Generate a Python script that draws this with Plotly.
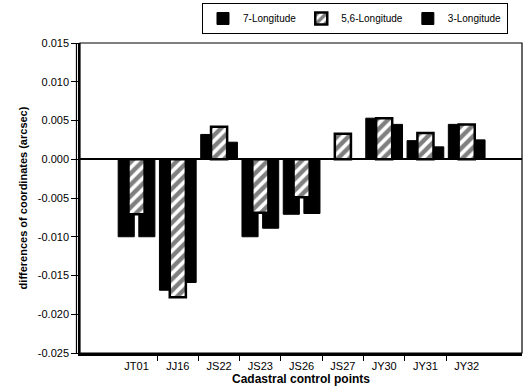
import plotly.graph_objects as go

# Cadastral control points and coordinate differences (arcsec)
points = ["JT01", "JJ16", "JS22", "JS23", "JS26", "JS27", "JY30", "JY31", "JY32"]
lon7 = [-0.0100, -0.0169, 0.0032, -0.0100, -0.0071, 0.0000, 0.0053, 0.0024, 0.0045]
lon56 = [-0.0071, -0.0178, 0.0042, -0.0069, -0.0049, 0.0033, 0.0053, 0.0034, 0.0045]
lon3 = [-0.0100, -0.0159, 0.0022, -0.0089, -0.0070, 0.0000, 0.0045, 0.0016, 0.0025]

y_ticks = [0.015, 0.010, 0.005, 0.000, -0.005, -0.010, -0.015, -0.020, -0.025]
y_labels = ["0.015", "0.010", "0.005", "0.000", "-0.005", "-0.010", "-0.015", "-0.020", "-0.025"]

pos = list(range(len(points)))
bw = 0.39
FONT = "Liberation Sans, Arial, sans-serif"

fig = go.Figure()
fig.add_trace(go.Bar(
    x=pos, y=lon7, name="7-Longitude", width=bw, offset=-0.25 - bw / 2,
    marker=dict(color="black", line=dict(color="black", width=1)),
    legendrank=1,
))
fig.add_trace(go.Bar(
    x=pos, y=lon3, name="3-Longitude", width=bw, offset=0.25 - bw / 2,
    marker=dict(color="black", line=dict(color="black", width=1)),
    legendrank=3,
))
fig.add_trace(go.Bar(
    x=pos, y=lon56, name="5,6-Longitude", width=bw, offset=-bw / 2,
    marker=dict(
        color="white",
        line=dict(color="black", width=2.5),
        pattern=dict(shape="/", fgcolor="black", bgcolor="white", size=8, solidity=0.55),
    ),
    legendrank=2,
))

# frame: thin top/right border plus a second left rule
fig.add_shape(type="rect", xref="paper", yref="paper", x0=0, x1=1, y0=0, y1=1,
              line=dict(color="black", width=1.2))
fig.add_shape(type="line", xref="paper", yref="paper", x0=-0.008, x1=-0.008, y0=0, y1=1,
              line=dict(color="black", width=1.2))

fig.update_layout(
    width=523, height=392,
    margin=dict(l=80, r=1, t=43, b=39),
    barmode="overlay",
    plot_bgcolor="white", paper_bgcolor="white",
    font=dict(family=FONT, size=11, color="black"),
    legend=dict(
        orientation="h", x=0.276, y=1.129, xanchor="left", yanchor="top",
        bordercolor="black", borderwidth=1, font=dict(size=10, family=FONT),
        itemwidth=30, tracegroupgap=0,
    ),
    xaxis=dict(
        range=[-1.37, 9.34],
        tickmode="array", tickvals=pos, ticktext=points,
        ticks="outside", ticklen=1, tickcolor="rgba(0,0,0,0)",
        tickfont=dict(size=11, family=FONT),
        minor=dict(tickmode="array", tickvals=[p + 0.5 for p in pos[:-1]],
                   ticks="outside", ticklen=5, tickcolor="black", tickwidth=1.2),
        showline=True, linecolor="black", linewidth=3,
        showgrid=False, zeroline=False,
        title=dict(text="<b>Cadastral control points</b>", font=dict(size=12, family=FONT), standoff=4),
    ),
    yaxis=dict(
        range=[-0.025, 0.015],
        tickmode="array", tickvals=y_ticks, ticktext=y_labels,
        ticks="outside", ticklen=7, tickwidth=1.2, tickcolor="black",
        tickfont=dict(size=11, family=FONT),
        showline=True, linecolor="black", linewidth=1.5,
        showgrid=False,
        zeroline=True, zerolinecolor="black", zerolinewidth=2,
        title=dict(text="<b>differences of coordinates (arcsec)</b>", font=dict(size=11, family=FONT), standoff=8),
    ),
)

fig.write_html("out.html")
